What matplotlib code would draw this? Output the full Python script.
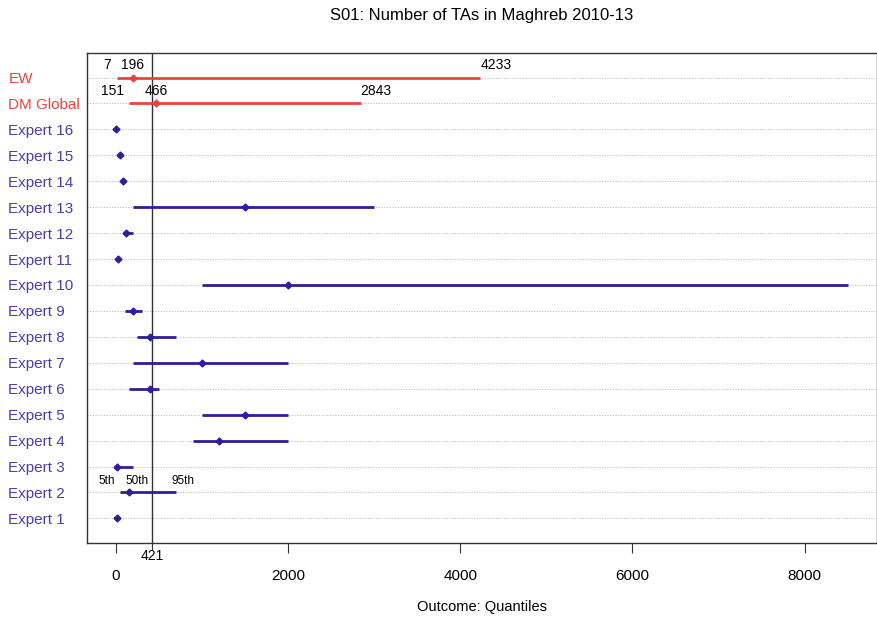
import matplotlib.pyplot as plt

plt.rcParams["font.family"] = ["Liberation Sans", "DejaVu Sans"]

# rows from bottom to top
labels = ["Expert 1", "Expert 2", "Expert 3", "Expert 4", "Expert 5", "Expert 6",
          "Expert 7", "Expert 8", "Expert 9", "Expert 10", "Expert 11", "Expert 12",
          "Expert 13", "Expert 14", "Expert 15", "Expert 16", "DM Global", "EW"]
q05 = [5, 50, 5, 900, 1000, 150, 200, 250, 100, 1000, 10, 80, 200, 60, 30, 0, 151, 7]
q50 = [10, 150, 15, 1200, 1500, 400, 1000, 400, 200, 2000, 20, 120, 1500, 85, 45, 5, 466, 196]
q95 = [20, 700, 200, 2000, 2000, 500, 2000, 700, 300, 8500, 30, 200, 3000, 110, 60, 15, 2843, 4233]
is_dm = [False] * 16 + [True, True]

ref_value = 421
x_ticks = [0, 2000, 4000, 6000, 8000]

RED = "#e8453c"
NAVY = "#2c1f9a"
SLATE = "#4a3fa8"

fig = plt.figure(figsize=(8.78, 6.22), dpi=100)
ax = fig.add_axes([0.0987, 0.127, 0.9, 0.788])

rows = range(1, len(labels) + 1)
for y, lo, mid, hi, dm in zip(rows, q05, q50, q95, is_dm):
    col = RED if dm else NAVY
    ax.axhline(y, color="#bdbdbd", lw=0.7, ls=(0, (1.2, 1.6)), zorder=1)
    ax.plot([lo, hi], [y, y], color=col, lw=2, solid_capstyle="butt", zorder=3)
    ax.plot(mid, y, "D", color=col, ms=3.5, zorder=4)

# quantile values printed over the decision maker rows
for i, dm in enumerate(is_dm):
    if not dm:
        continue
    y = i + 1 + 0.22
    ax.text(q05[i] - 60, y, f"{q05[i]}", ha="right", va="bottom", fontsize=10)
    ax.text(q50[i], y, f"{q50[i]}", ha="center", va="bottom", fontsize=10)
    ax.text(q95[i], y, f"{q95[i]}", ha="left", va="bottom", fontsize=10)

# quantile key on Expert 2
ax.text(q05[1] - 60, 2.22, "5th", ha="right", va="bottom", fontsize=8.5)
ax.text(q50[1] - 40, 2.22, "50th", ha="left", va="bottom", fontsize=8.5)
ax.text(q95[1] - 60, 2.22, "95th", ha="left", va="bottom", fontsize=8.5)

ax.axvline(ref_value, color="#333333", lw=1, zorder=2)

ax.set_xlim(-340, 8840)
ax.set_ylim(0.05, 18.95)
ax.set_xticks(x_ticks)
ax.set_xticklabels([str(t) for t in x_ticks], fontsize=11)
ax.tick_params(axis="x", length=7, pad=12, color="#333333")

# extra tick for the reference value, label close to the axis
ax.plot([ref_value, ref_value], [0, -0.015], transform=ax.get_xaxis_transform(),
        color="#333333", lw=0.8, clip_on=False)
ax.text(ref_value, -0.012, str(ref_value), transform=ax.get_xaxis_transform(),
        ha="center", va="top", fontsize=10)

ax.set_yticks(list(rows))
ax.set_yticklabels(labels, fontsize=11)
ax.tick_params(axis="y", length=0, pad=0)
for lab, dm in zip(ax.get_yticklabels(), is_dm):
    lab.set_color(RED if dm else SLATE)
    lab.set_horizontalalignment("left")
    lab.set_x(-0.099)

for sp in ax.spines.values():
    sp.set_color("#333333")
    sp.set_linewidth(1)

ax.set_xlabel("Outcome: Quantiles", fontsize=10.5, labelpad=12)
ax.set_title("S01: Number of TAs in Maghreb 2010-13", fontsize=12, pad=24)

fig.savefig("out.png", dpi=100)
